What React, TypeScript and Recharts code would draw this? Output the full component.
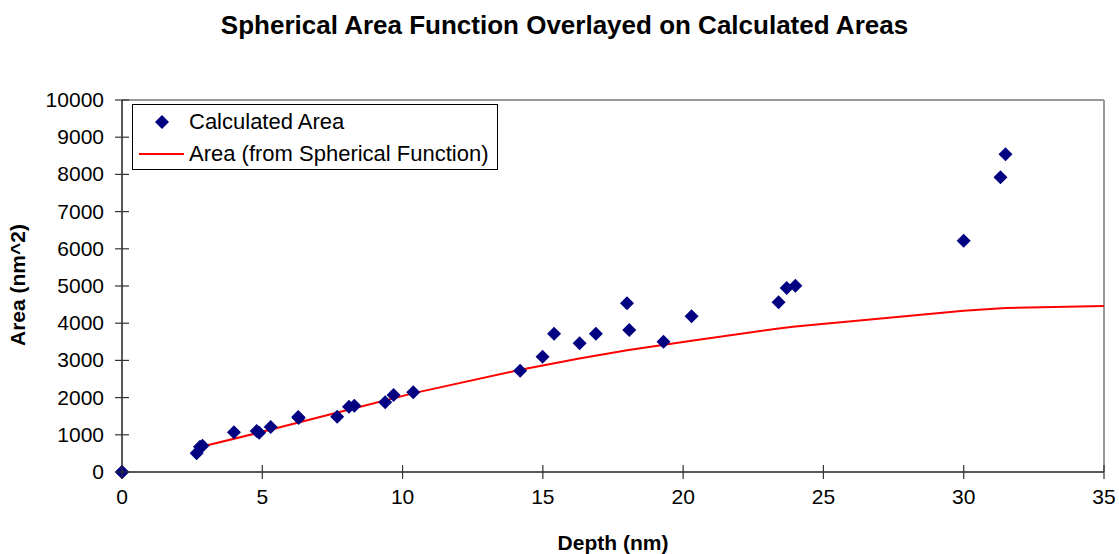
import { ScatterChart, Scatter, XAxis, YAxis, ReferenceLine, ReferenceDot } from 'recharts';

const depths = [
  0, 2.66, 2.78, 2.87, 3.99, 4.8, 4.89, 5.3, 6.28, 6.3, 7.67, 8.09, 8.28, 9.38, 9.68, 10.38,
  14.19, 14.99, 15.4, 16.31, 16.89, 18.0, 18.08, 19.3, 20.3, 23.4, 23.69, 24.0, 30.0, 31.31, 31.49,
];
const areas = [
  0, 505, 680, 707, 1067, 1102, 1057, 1210, 1478, 1450, 1487, 1756, 1783, 1873, 2070, 2142,
  2723, 3100, 3718, 3459, 3718, 4534, 3817, 3503, 4185, 4561, 4946, 5008, 6218, 7922, 8540,
];

const curveDepths = [2.9, 5, 8, 10.4, 14.2, 16.3, 18, 20.3, 23.4, 24, 30, 31.5, 35];
const curveAreas = [690, 1080, 1660, 2120, 2750, 3050, 3270, 3530, 3860, 3910, 4335, 4410, 4460];

const xTicks = [0, 5, 10, 15, 20, 25, 30, 35];
const yTicks = [0, 1000, 2000, 3000, 4000, 5000, 6000, 7000, 8000, 9000, 10000];

const calculated = depths.map((d, i) => ({ depth: d, area: areas[i] }));
const spherical = curveDepths.map((d, i) => ({ depth: d, area: curveAreas[i] }));

const NAVY = '#000080';
const FONT = '"Liberation Sans", Arial, sans-serif';
const TICK_FONT = 21;

function Diamond(props: any) {
  const { cx, cy } = props;
  if (cx == null || cy == null) return null;
  const r = 7;
  return (
    <polygon
      points={`${cx},${cy - r} ${cx + r},${cy} ${cx},${cy + r} ${cx - r},${cy}`}
      fill={NAVY}
    />
  );
}

// tick marks cross the axis, as in the original
function XTick(props: any) {
  const { x, y, payload } = props;
  return (
    <g>
      <line x1={x} x2={x} y1={y - 7} y2={y + 7} stroke="#333" strokeWidth={1.2} />
      <text x={x} y={y + 32} textAnchor="middle" fill="#000" fontSize={TICK_FONT} fontFamily={FONT}>
        {payload.value}
      </text>
    </g>
  );
}

function YTick(props: any) {
  const { x, y, payload } = props;
  return (
    <g>
      <line x1={x - 7} x2={x + 7} y1={y} y2={y} stroke="#333" strokeWidth={1.2} />
      <text
        x={x - 18}
        y={y + 7}
        textAnchor="end"
        fill="#000"
        fontSize={TICK_FONT}
        fontFamily={FONT}
      >
        {payload.value}
      </text>
    </g>
  );
}

export default function App() {
  // points sitting on the axes are drawn again on top so they are not cut off
  const onAxes = calculated.filter((p) => p.depth === 0 || p.area === 0);
  return (
    <div
      style={{
        position: 'absolute',
        left: 0,
        top: 0,
        width: 1119,
        height: 554,
        background: '#fff',
        fontFamily: FONT,
      }}
    >
      <div
        style={{
          position: 'absolute',
          top: 10,
          left: 0,
          width: 1129,
          textAlign: 'center',
          fontWeight: 'bold',
          fontSize: 26,
        }}
      >
        Spherical Area Function Overlayed on Calculated Areas
      </div>
      <ScatterChart
        width={1119}
        height={554}
        margin={{ top: 100, right: 15, left: 62, bottom: 52 }}
      >
        <XAxis
          type="number"
          dataKey="depth"
          domain={[0, 35]}
          ticks={xTicks}
          height={30}
          tickLine={false}
          tickSize={0}
          tickMargin={0}
          tick={<XTick />}
          axisLine={{ stroke: '#222', strokeWidth: 1.5 }}
        />
        <YAxis
          type="number"
          dataKey="area"
          domain={[0, 10000]}
          ticks={yTicks}
          width={60}
          tickLine={false}
          tickSize={0}
          tickMargin={0}
          tick={<YTick />}
          axisLine={{ stroke: '#222', strokeWidth: 1.5 }}
        />
        <ReferenceLine y={10000} stroke="#999" strokeWidth={2} />
        <ReferenceLine x={35} stroke="#999" strokeWidth={2} />
        <Scatter
          data={spherical}
          line={{ stroke: '#ff0000', strokeWidth: 2 }}
          shape={() => null}
          isAnimationActive={false}
        />
        <Scatter data={calculated} shape={Diamond} isAnimationActive={false} />
        {onAxes.map((p, i) => (
          <ReferenceDot
            key={i}
            x={p.depth}
            y={p.area}
            ifOverflow="visible"
            shape={Diamond}
          />
        ))}
      </ScatterChart>
      <div style={{ position: 'absolute', left: 0, top: 285, width: 0, height: 0 }}>
        <div
          style={{
            position: 'absolute',
            left: 18,
            top: 0,
            transform: 'translate(-50%, -50%) rotate(-90deg)',
            whiteSpace: 'nowrap',
            fontWeight: 'bold',
            fontSize: 21,
          }}
        >
          Area (nm^2)
        </div>
      </div>
      <div
        style={{
          position: 'absolute',
          top: 531,
          left: 613,
          transform: 'translateX(-50%)',
          whiteSpace: 'nowrap',
          fontWeight: 'bold',
          fontSize: 21,
        }}
      >
        Depth (nm)
      </div>
      <div
        style={{
          position: 'absolute',
          left: 132,
          top: 104,
          width: 364,
          height: 64,
          border: '1px solid #000',
          background: '#fff',
          fontSize: 22,
        }}
      >
        <div style={{ position: 'absolute', left: 22, top: 10 }}>
          <svg width={14} height={14} style={{ display: 'block' }}>
            <polygon points="7,0 14,7 7,14 0,7" fill={NAVY} />
          </svg>
        </div>
        <div style={{ position: 'absolute', left: 56, top: 4, whiteSpace: 'nowrap' }}>
          Calculated Area
        </div>
        <div
          style={{
            position: 'absolute',
            left: 6,
            top: 48,
            width: 45,
            height: 2,
            background: '#ff0000',
          }}
        />
        <div style={{ position: 'absolute', left: 56, top: 36, whiteSpace: 'nowrap' }}>
          Area (from Spherical Function)
        </div>
      </div>
    </div>
  );
}
